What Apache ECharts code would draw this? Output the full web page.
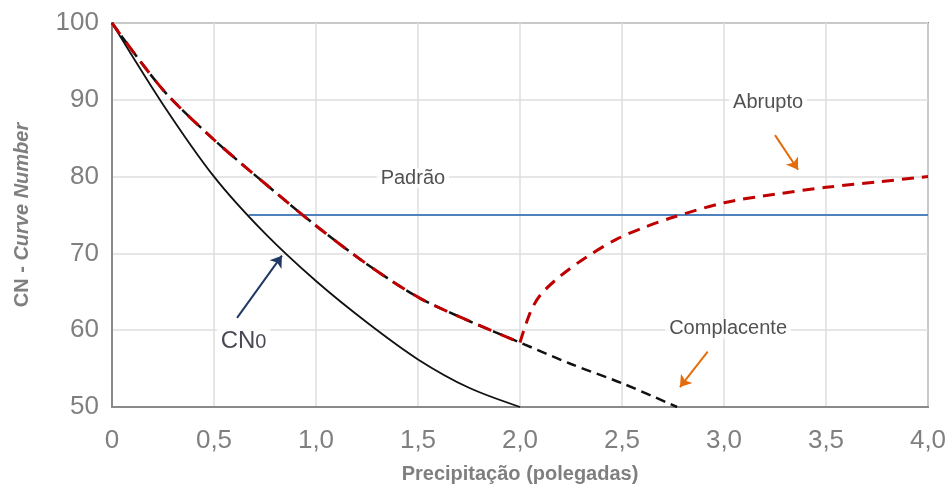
<!DOCTYPE html>
<html>
<head>
<meta charset="utf-8">
<script src="https://cdn.jsdelivr.net/npm/echarts@6/dist/echarts.min.js"></script>
<style>
    html, body { margin: 0; padding: 0; background: #fff; }
    #chart { width: 947px; height: 486px; }
</style>
</head>
<body>
<div id="chart"></div>
<script>
// tick labels (comma decimals)
const xTickLabels = ['0', '0,5', '1,0', '1,5', '2,0', '2,5', '3,0', '3,5', '4,0'];

// CN0 curve (solid black)
const cn0X = [0, 0.25, 0.5, 0.75, 1.0, 1.25, 1.5, 1.75, 2.0];
const cn0Y = [100, 89.4, 80.0, 72.6, 66.4, 61.0, 56.2, 52.5, 50];

// Complacente (dashed black)
const compX = [0, 0.25, 0.5, 0.75, 1.0, 1.25, 1.5, 1.75, 2.0, 2.25, 2.5, 2.77];
const compY = [100, 91.3, 84.8, 79.1, 73.6, 68.6, 64.3, 61.2, 58.4, 55.6, 53.1, 50];

// red dashed part that follows the complacente curve up to 2.0
const redX = [0, 0.25, 0.5, 0.75, 1.0, 1.25, 1.5, 1.75, 2.0];
const redY = [100, 91.3, 84.8, 79.1, 73.6, 68.6, 64.3, 61.2, 58.4];

// Abrupto branch (dashed red)
const abrX = [2.0, 2.05, 2.1, 2.2, 2.33, 2.47, 2.6, 2.75, 3.0, 3.25, 3.5, 3.75, 4.0];
const abrY = [58.4, 62.3, 64.6, 67.1, 69.6, 71.8, 73.3, 74.7, 76.6, 77.7, 78.6, 79.3, 80];

// Padrão (solid blue)
const padraoX = [0.67, 4.0];
const padraoY = [75, 75];

// annotation texts [x, y, text]
const notes = [
    [1.475, 79.8, 'Padrão'],
    [3.216, 89.6, 'Abrupto'],
    [3.02, 60.2, 'Complacente'],
    [0.645, 58.6, 'CN0']
];

// arrows [x0, y0, x1, y1, colour]
const arrows = [
    [0.613, 61.6, 0.833, 69.7, '#1f3864'],
    [3.25, 85.4, 3.363, 80.9, '#e46c0a'],
    [2.92, 57.2, 2.784, 52.6, '#e46c0a']
];

const zip = (xs, ys) => xs.map((x, i) => [x, ys[i]]);
const grey = '#7f7f7f';
const font = 'Liberation Sans, Arial, sans-serif';

const chart = echarts.init(document.getElementById('chart'));

chart.setOption({
    animation: false,
    grid: {
        left: 112, right: 19, top: 23, bottom: 79,
        outerBoundsMode: 'none',
        show: true, borderColor: '#8a8a8a', borderWidth: 2
    },
    xAxis: {
        type: 'value', min: 0, max: 4, interval: 0.5,
        name: 'Precipitação (polegadas)',
        nameLocation: 'middle', nameGap: 57,
        nameTextStyle: { color: grey, fontSize: 20, fontWeight: 'bold', fontFamily: font },
        axisLine: { show: true, lineStyle: { color: '#8a8a8a', width: 2 } },
        axisTick: { show: false },
        axisLabel: {
            color: grey, fontSize: 26, fontFamily: font, margin: 21,
            formatter: (v) => xTickLabels[Math.round(v / 0.5)]
        },
        splitLine: { lineStyle: { color: '#dedede', width: 1.5 } }
    },
    yAxis: {
        type: 'value', min: 50, max: 100, interval: 10,
        name: '{a|CN - }{b|Curve Number}',
        nameLocation: 'middle', nameGap: 80, nameRotate: 90,
        nameTextStyle: {
            rich: {
                a: { color: grey, fontSize: 20, fontWeight: 'bold', fontFamily: font },
                b: { color: grey, fontSize: 20, fontWeight: 'bold', fontStyle: 'italic', fontFamily: font }
            }
        },
        axisLine: { show: true, lineStyle: { color: '#8a8a8a', width: 2 } },
        axisTick: { show: false },
        axisLabel: { color: grey, fontSize: 26, fontFamily: font, margin: 13 },
        splitLine: { lineStyle: { color: '#dedede', width: 1.5 } }
    },
    series: [
        {
            name: 'Padrão', type: 'line', data: zip(padraoX, padraoY),
            symbol: 'none', z: 2,
            lineStyle: { color: '#4f81bd', width: 2 }
        },
        {
            name: 'CN0', type: 'line', data: zip(cn0X, cn0Y),
            symbol: 'none', smooth: 0.3, z: 3,
            lineStyle: { color: '#111', width: 1.8 }
        },
        {
            name: 'Complacente', type: 'line', data: zip(compX, compY),
            symbol: 'none', smooth: 0.3, z: 3,
            lineStyle: { color: '#111', width: 2.5, type: [10, 6] }
        },
        {
            name: 'Padrão red', type: 'line', data: zip(redX, redY),
            symbol: 'none', smooth: 0.3, z: 4,
            lineStyle: { color: '#c00000', width: 3, type: [14, 10] }
        },
        {
            name: 'Abrupto', type: 'line', data: zip(abrX, abrY),
            symbol: 'none', smooth: 0.3, z: 4,
            lineStyle: { color: '#c00000', width: 3, type: [12, 8] }
        },
        {
            name: 'arrows', type: 'line', data: [], z: 5,
            markLine: {
                silent: true, symbol: ['none', 'arrow'], symbolSize: 11,
                label: { show: false },
                data: arrows.map((a) => [
                    { coord: [a[0], a[1]], lineStyle: { color: a[4], width: 2, type: 'solid' } },
                    { coord: [a[2], a[3]] }
                ])
            }
        },
        {
            name: 'notes', type: 'scatter', symbolSize: 0, z: 6,
            data: notes.map((n) => ({ value: [n[0], n[1]], name: n[2] })),
            label: {
                show: true, position: 'inside',
                formatter: (p) => p.name === 'CN0' ? '{c|CN}{s|0}' : '{t|' + p.name + '}',
                backgroundColor: '#fff', padding: [0, 4],
                rich: {
                    t: { color: '#262626', fontSize: 20, fontFamily: font },
                    c: { color: '#1a1a2a', fontSize: 24, fontFamily: font, verticalAlign: 'bottom' },
                    s: { color: '#1a1a2a', fontSize: 20, fontFamily: font, verticalAlign: 'bottom' }
                }
            }
        }
    ]
});
</script>
</body>
</html>
